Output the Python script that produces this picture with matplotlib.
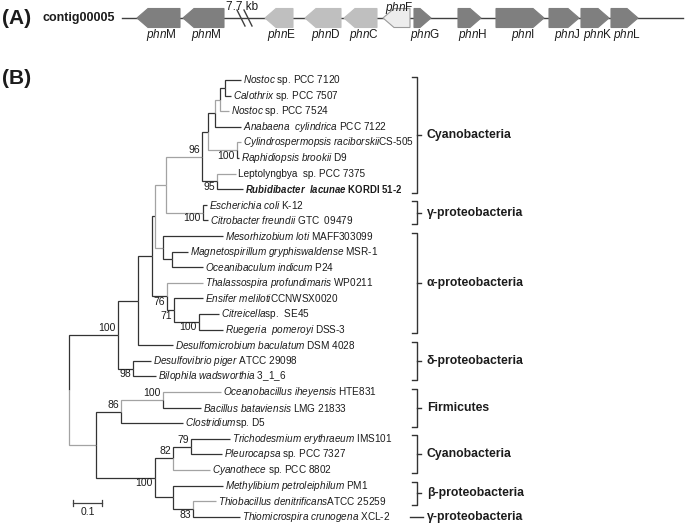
import matplotlib
matplotlib.use('Agg')
import matplotlib.pyplot as plt
from matplotlib.patches import Polygon
from matplotlib.transforms import blended_transform_factory

plt.rcParams['font.family'] = ['Liberation Sans', 'DejaVu Sans']
plt.rcParams['mathtext.fontset'] = 'custom'
plt.rcParams['mathtext.rm'] = 'Liberation Sans'
plt.rcParams['mathtext.it'] = 'Liberation Sans:italic'
plt.rcParams['mathtext.bf'] = 'Liberation Sans:bold'
plt.rcParams['mathtext.bfit'] = 'Liberation Sans:italic:bold'

# ---- (A) gene map, positions (map units ~ px)
gene_names = ['M', 'M', 'E', 'D', 'C', 'F', 'G', 'H', 'I', 'J', 'K', 'L']
gene_start = [137, 183, 265, 305, 344, 383, 414, 458, 496, 549, 581, 611]
gene_end = [180, 224, 293, 341, 377, 410, 431, 481, 544, 579, 609, 638]
gene_strand = [-1, -1, -1, -1, -1, -1, 1, 1, 1, 1, 1, 1]
contig_span = [122, 683]
break_at = 245
break_label = '7.7 kb'

# ---- (B) tree: leaves top to bottom, parent clade and branch length
taxa = [
    r'$\mathit{Nostoc}$ sp. PCC 7120',
    r'$\mathit{Calothrix}$ sp. PCC 7507',
    r'$\mathit{Nostoc}$ sp. PCC 7524',
    r'$\mathit{Anabaena\ \ cylindrica}$ PCC 7122',
    r'$\mathit{Cylindrospermopsis\ raciborskii}$CS-505',
    r'$\mathit{Raphidiopsis\ brookii}$ D9',
    'Leptolyngbya  sp. PCC 7375',
    r'$\mathbfit{Rubidibacter\ \ lacunae}$ KORDI 51-2',
    r'$\mathit{Escherichia\ coli}$ K-12',
    r'$\mathit{Citrobacter\ freundii}$ GTC  09479',
    r'$\mathit{Mesorhizobium\ loti}$ MAFF303099',
    r'$\mathit{Magnetospirillum\ gryphiswaldense}$ MSR-1',
    r'$\mathit{Oceanibaculum\ indicum}$ P24',
    r'$\mathit{Thalassospira\ profundimaris}$ WP0211',
    r'$\mathit{Ensifer\ meliloti}$CCNWSX0020',
    r'$\mathit{Citreicella}$sp.  SE45',
    r'$\mathit{Ruegeria\ \ pomeroyi}$ DSS-3',
    r'$\mathit{Desulfomicrobium\ baculatum}$ DSM 4028',
    r'$\mathit{Desulfovibrio\ piger}$ ATCC 29098',
    r'$\mathit{Bilophila\ wadsworthia}$ 3_1_6',
    r'$\mathit{Oceanobacillus\ iheyensis}$ HTE831',
    r'$\mathit{Bacillus\ bataviensis}$ LMG 21833',
    r'$\mathit{Clostridium}$sp. D5',
    r'$\mathit{Trichodesmium\ erythraeum}$ IMS101',
    r'$\mathit{Pleurocapsa}$ sp. PCC 7327',
    r'$\mathit{Cyanothece}$ sp. PCC 8802',
    r'$\mathit{Methylibium\ petroleiphilum}$ PM1',
    r'$\mathit{Thiobacillus\ denitrificans}$ATCC 25259',
    r'$\mathit{Thiomicrospira\ crunogena}$ XCL-2',
]
taxon_parent = ['nc', 'nc', 'c3', 'c2', 'cr', 'cr', 'lr', 'lr', 'gam', 'gam',
                'meso', 'mo', 'mo', 'a76', 'a71', 'cit', 'cit', 'n2', 'delta', 'delta',
                'ob', 'ob', 'fi', 'tp', 'tp', 'cy2', 'beta', 'thio', 'thio']
taxon_len = [0.055, 0.021, 0.031, 0.090, 0.014, 0.007, 0.066, 0.090, 0.014, 0.017,
             0.207, 0.055, 0.107, 0.124, 0.100, 0.069, 0.083, 0.121, 0.062, 0.079,
             0.200, 0.131, 0.214, 0.134, 0.107, 0.128, 0.172, 0.079, 0.162]

clade_id = ['root', 'n1', 'low', 'n2', 'delta', 'n3', 'u', 'a76', 'g', 'meso',
            'cy96', 'gam', 'c1', 'lr', 'c2', 'cr', 'c3', 'nc', 'mo', 'a71',
            'cit', 'fi', 'cb', 'ob', 'cy2', 'tp', 'beta', 'thio']
clade_parent = [None, 'root', 'root', 'n1', 'n1', 'n2', 'n3', 'n3', 'u', 'u',
                'g', 'g', 'cy96', 'cy96', 'c1', 'c1', 'c2', 'c3', 'meso', 'a76',
                'a71', 'low', 'low', 'fi', 'cb', 'cy2', 'cb', 'beta']
clade_len = [0.0, 0.169, 0.093, 0.069, 0.052, 0.048, 0.010, 0.052, 0.038, 0.028,
             0.124, 0.128, 0.021, 0.052, 0.024, 0.100, 0.017, 0.017, 0.031, 0.024,
             0.086, 0.086, 0.203, 0.145, 0.062, 0.062, 0.062, 0.069]
clade_boot = [None, 100, None, None, 98, None, None, 76, None, None,
              96, 100, None, 95, None, 100, None, None, None, 71,
              100, 86, 100, 100, 82, 79, None, 83]

groups = ['Cyanobacteria', 'γ-proteobacteria', 'α-proteobacteria', 'δ-proteobacteria',
          'Firmicutes', 'Cyanobacteria', 'β-proteobacteria', 'γ-proteobacteria']
group_first = [0, 8, 10, 17, 20, 23, 26, 28]
group_last = [7, 9, 16, 19, 22, 25, 27, 28]

# ---- style
W, H = 685, 523
PX = 290.0          # pixels per substitution unit
X0, Y0, DY = 69, 80, 15.6
DARK, GREY = '#333333', '#a3a3a3'
TXT = '#1c1c1c'
grey_branches = {'low', 'g', 'cy96', 'gam', 'c3', 'cr', 'meso', 'ob', 2, 4, 6, 13, 20, 25, 27}
boot_above = {'cy96', 'n1', 'ob', 'fi', 'tp', 'cy2'}
gene_fill = ['#7f7f7f'] * 2 + ['#bfbfbf'] * 3 + ['#ededed'] + ['#7f7f7f'] * 6

fig = plt.figure(figsize=(W / 100, H / 100), dpi=100)
ax_g = fig.add_axes([0, 0, 1, 1])
ax_g.set_xlim(0, W)
ax_g.set_ylim(H, 0)
ax_g.axis('off')

ax_t = fig.add_axes([0, 0, 1, 1])
ax_t.set_xlim(-X0 / PX, (W - X0) / PX)
ax_t.set_ylim((H - Y0) / DY, -Y0 / DY)
ax_t.axis('off')
ax_t.patch.set_alpha(0)

# ---- gene map
gy, gh, head = 18, 19, 11
ax_g.text(2, gy, '(A)', fontsize=15, fontweight='bold', va='center', color=TXT)
ax_g.text(43, gy, 'contig00005', fontsize=9, fontweight='bold', va='center', color=TXT)
ax_g.plot(contig_span, [gy, gy], color='#404040', lw=1.0, zorder=1)
for dx in (-4, 3):
    ax_g.plot([break_at + dx - 4, break_at + dx + 4], [gy - 8, gy + 8], color='#404040', lw=1.0)
ax_g.text(break_at - 3, gy - 11, break_label, fontsize=8.5, ha='center', va='center', color=TXT)

for nm, s, e, st, fc in zip(gene_names, gene_start, gene_end, gene_strand, gene_fill):
    hl = min(head, 0.65 * (e - s))
    t, b = gy - gh / 2, gy + gh / 2
    if st > 0:
        pts = [(s, t), (e - hl, t), (e, gy), (e - hl, b), (s, b)]
    else:
        pts = [(e, t), (s + hl, t), (s, gy), (s + hl, b), (e, b)]
    ec = '#9a9a9a' if nm == 'F' else fc
    ax_g.add_patch(Polygon(pts, closed=True, fc=fc, ec=ec, lw=0.8, zorder=2))
    lx = (s + e) / 2 + 3
    ly = gy - 10.5 if nm == 'F' else gy + 17
    ax_g.text(lx, ly, r'$\mathit{phn}$' + nm, fontsize=8.5, ha='center', va='center',
              color=TXT, zorder=3)

ax_g.text(2, 78, '(B)', fontsize=15, fontweight='bold', va='center', color=TXT)

# ---- tree layout
parent = dict(zip(clade_id, clade_parent))
blen = dict(zip(clade_id, clade_len))
for i, p in enumerate(taxon_parent):
    parent[i] = p
    blen[i] = taxon_len[i]
children = {c: [] for c in clade_id}
for n, p in parent.items():
    if p is not None:
        children[p].append(n)

ypos = {i: float(i) for i in range(len(taxa))}
depth = {'root': 0.0}


def place(n):
    for c in children.get(n, []):
        depth[c] = depth[n] + blen[c]
        if c in children:
            place(c)
    if n in children:
        ypos[n] = sum(ypos[c] for c in children[n]) / len(children[n])


place('root')

for n, p in parent.items():
    if p is None:
        continue
    col = GREY if n in grey_branches else DARK
    ax_t.plot([depth[p], depth[p], depth[n]], [ypos[p], ypos[n], ypos[n]],
              color=col, lw=0.9, solid_capstyle='butt', solid_joinstyle='miter')

for i, lab in enumerate(taxa):
    bold = 'mathbfit' in lab
    ax_t.text(depth[i] + 2 / PX, i, lab, fontsize=6.9 if bold else 7.2, va='center',
              ha='left', fontweight='bold' if bold else 'normal', color=TXT)

for n, bs in zip(clade_id, clade_boot):
    if bs is None:
        continue
    if n in boot_above:
        ax_t.text(depth[n] - 2 / PX, ypos[n] - 2 / DY, str(bs), fontsize=7.5,
                  ha='right', va='bottom', color=TXT)
    else:
        ax_t.text(depth[n] - 2 / PX, ypos[n] + 0.5 / DY, str(bs), fontsize=7.5,
                  ha='right', va='top', color=TXT)

# scale bar
sy = (503 - Y0) / DY
sx = (73 - X0) / PX
ax_t.plot([sx, sx + 0.1], [sy, sy], color='#404040', lw=0.9)
for xx in (sx, sx + 0.1):
    ax_t.plot([xx, xx], [sy - 3 / DY, sy + 3 / DY], color='#404040', lw=0.9)
ax_t.text(sx + 0.05, sy + 4 / DY, '0.1', fontsize=7.5, ha='center', va='top', color=TXT)

# clade brackets
tr = blended_transform_factory(ax_g.transData, ax_t.transData)
bx = 417
for name, a, b in zip(groups, group_first, group_last):
    if a == b:
        ax_t.plot([410, 423], [a, a], color=DARK, lw=1.0, transform=tr)
    else:
        top, bot = a - 0.22, b + 0.22
        ax_t.plot([bx - 5, bx, bx, bx - 5], [top, top, bot, bot], color=DARK, lw=1.0, transform=tr)
        mid = (top + bot) / 2
        ax_t.plot([bx, bx + 4], [mid, mid], color=DARK, lw=1.0, transform=tr)
    ax_t.text(427, (a + b) / 2, name, fontsize=8.8, fontweight='bold', va='center',
              ha='left', color=TXT, transform=tr)

fig.savefig('out.png', dpi=100)
